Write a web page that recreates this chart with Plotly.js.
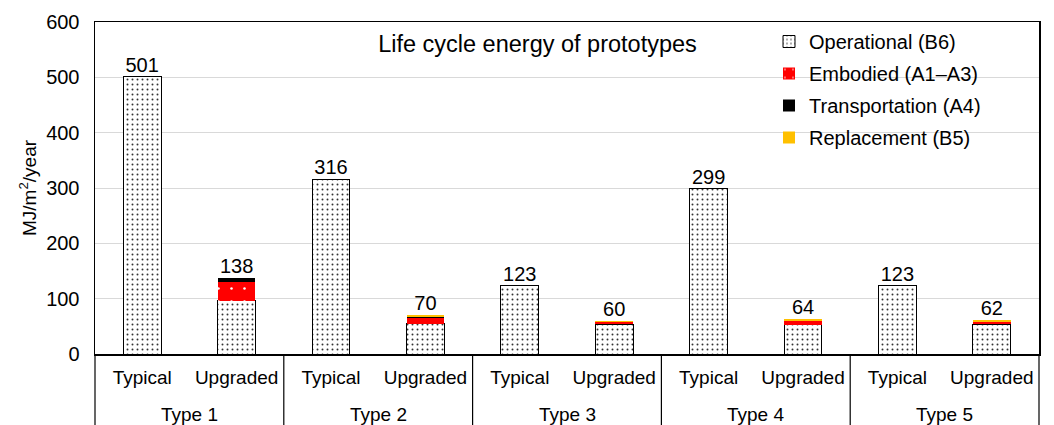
<!DOCTYPE html>
<html>
<head>
<meta charset="utf-8">
<script src="https://cdn.plot.ly/plotly-3.0.1.min.js"></script>
<style>html,body{margin:0;padding:0;background:#fff;}#chart{width:1054px;height:425px;}</style>
</head>
<body>
<div id="chart"></div>
<script>
// ---- data ----
const groups = ['Type 1','Type 1','Type 2','Type 2','Type 3','Type 3','Type 4','Type 4','Type 5','Type 5'];
const variants = ['Typical','Upgraded','Typical','Upgraded','Typical','Upgraded','Typical','Upgraded','Typical','Upgraded'];
const operational = [501, 96, 316, 55, 123, 54, 299, 53, 123, 54];
const embodied    = [0, 34, 0, 10, 0, 3, 0, 6, 0, 3];
const transport   = [0, 8, 0, 2, 0, 1, 0, 1, 0, 1];
const replacement = [0, 0, 0, 3, 0, 2, 0, 4, 0, 4];
const seriesNames = ['Operational (B6)', 'Embodied (A1\u2013A3)', 'Transportation (A4)', 'Replacement (B5)'];
const titleText = 'Life cycle energy of prototypes';
const yTitle = 'MJ/m<sup>2</sup>/year';

// ---- derived ----
const totals = operational.map((v, i) => v + embodied[i] + transport[i] + replacement[i]);
const xi = variants.map((_, i) => i);
const groupNames = [...new Set(groups)];
const groupCenters = groupNames.map(g => {
  const idx = xi.filter(i => groups[i] === g);
  return (idx[0] + idx[idx.length - 1]) / 2;
});
const groupBounds = groupNames.slice(1).map(g => groups.indexOf(g) - 0.5);

const FONT = 'Liberation Sans, Arial, sans-serif';
const H = 425, MT = 22, MB = 71, PH = H - MT - MB;

const traces = [
  {type:'bar', name: seriesNames[0], x: xi, y: operational, legendgroup:'a',
   marker:{color:'#ffffff', line:{color:'#000', width:1},
           pattern:{shape:'.', fgcolor:'#333', bgcolor:'#ffffff', size:5, solidity:0.12}}},
  {type:'bar', name: seriesNames[1], x: xi, y: embodied, legendgroup:'b',
   marker:{color:'#ff0000', line:{width:0},
           pattern:{shape:'.', fgcolor:'#ffffff', bgcolor:'#ff0000', size:13, solidity:0.03}}},
  {type:'bar', name: seriesNames[2], x: xi, y: transport, legendgroup:'c',
   marker:{color:'#000000', line:{width:0}}},
  {type:'bar', name: seriesNames[3], x: xi, y: replacement, legendgroup:'d',
   marker:{color:'#ffc000', line:{width:0}}},
  {type:'scatter', mode:'text', x: xi, y: totals, text: totals.map(v => String(Math.round(v))),
   textposition:'top center', textfont:{family:FONT, size:20, color:'#000'},
   showlegend:false, hoverinfo:'skip', cliponaxis:false}
];

const annotations = groupNames.map((g, k) => ({
  x: groupCenters[k], xref:'x', y: -(414 - (H - MB)) / PH, yref:'paper',
  text: g, showarrow:false, xanchor:'center', yanchor:'middle',
  font:{family:FONT, size:19, color:'#000'}
}));

const shapes = [
  {type:'line', xref:'paper', yref:'paper', x0:0, x1:0, y0:0, y1:-MB/PH, line:{color:'#000', width:1.2}},
  {type:'line', xref:'paper', yref:'paper', x0:1, x1:1, y0:0, y1:-MB/PH, line:{color:'#000', width:1.2}}
].concat(groupBounds.map(b => ({
  type:'line', xref:'x', yref:'paper', x0:b, x1:b, y0:0, y1:-MB/PH, line:{color:'#000', width:1.2}
})));

const layout = {
  width:1054, height:H,
  margin:{l:95, r:15, t:MT, b:MB},
  paper_bgcolor:'#fff', plot_bgcolor:'#fff',
  font:{family:FONT, size:19, color:'#000'},
  barmode:'stack', bargap:0.6,
  showlegend:true,
  legend:{x:(769 - 95) / 944, xanchor:'left', y:1.0, yanchor:'top', bgcolor:'rgba(0,0,0,0)',
          traceorder:'grouped', tracegroupgap:3, font:{family:FONT, size:20, color:'#000'},
          itemwidth:30},
  title:{text:titleText, x:537.5/1054, xanchor:'center', y:1-44/H, yanchor:'middle',
         font:{family:FONT, size:23.5, color:'#000'}},
  xaxis:{range:[-0.5, 9.5], tickvals: xi, ticktext: variants, showline:true, linecolor:'#000',
         linewidth:1.5, mirror:true, ticks:'', showgrid:false, zeroline:false,
         ticklabelstandoff:6, tickfont:{family:FONT, size:19, color:'#000'}},
  yaxis:{range:[0,600], dtick:100, showline:true, linecolor:'#000', linewidth:1.5, mirror:true,
         gridcolor:'#d9d9d9', gridwidth:1, zeroline:false, ticks:'', ticklabelstandoff:10,
         tickfont:{family:FONT, size:20, color:'#000'},
         title:{text:yTitle, font:{family:FONT, size:19, color:'#000'}, standoff:4}},
  annotations, shapes
};

Plotly.newPlot('chart', traces, layout, {displayModeBar:false, staticPlot:true});
</script>
</body>
</html>
